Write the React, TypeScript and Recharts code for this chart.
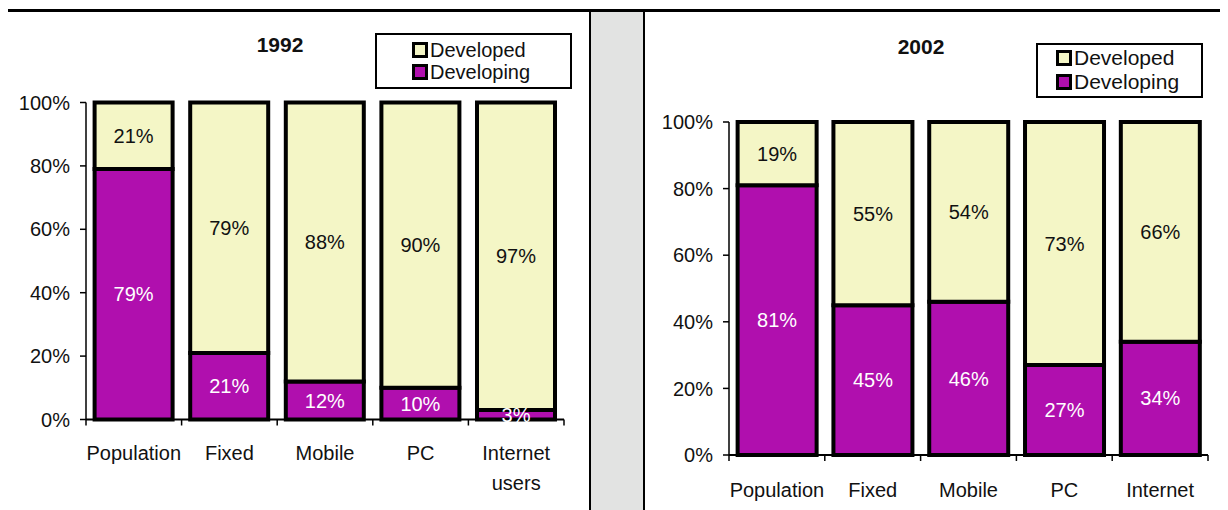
import { BarChart, Bar, XAxis, YAxis, Legend, LabelList } from 'recharts';

const categories1992 = ['Population', 'Fixed', 'Mobile', 'PC', 'Internet users'];
const developing1992 = [79, 21, 12, 10, 3];
const developed1992 = [21, 79, 88, 90, 97];

const categories2002 = ['Population', 'Fixed', 'Mobile', 'PC', 'Internet'];
const developing2002 = [81, 45, 46, 27, 34];
const developed2002 = [19, 55, 54, 73, 66];

const percentTicks = [0, 20, 40, 60, 80, 100];
const legendOrder = ['Developed', 'Developing'];

const FONT = '"Liberation Sans", Arial, sans-serif';
const YELLOW = '#F4F6C6';
const PURPLE = '#B00FAE';
const seriesColors: Record<string, string> = { Developed: YELLOW, Developing: PURPLE };
const TICK_SIZE = 6;

const pct = (v: number) => `${v}%`;

// category label (one word per line) plus the small tick marks that sit
// on the category boundaries, like the old Excel charts
function CategoryTick({ x, y, payload, index, visibleTicksCount, gap }: any) {
  const lines = String(payload.value).split(' ');
  const half = payload.offset || 0;
  const axisY = y - TICK_SIZE - gap;
  const last = index === visibleTicksCount - 1;
  return (
    <g>
      <line x1={x - half} x2={x - half} y1={axisY} y2={axisY + TICK_SIZE} stroke="#000" strokeWidth={1.5} />
      {last && <line x1={x + half} x2={x + half} y1={axisY} y2={axisY + TICK_SIZE} stroke="#000" strokeWidth={1.5} />}
      <text x={x} y={y} textAnchor="middle" fontSize={20} fontFamily={FONT} fill="#111">
        {lines.map((w, i) => (
          <tspan key={i} x={x} dy={i === 0 ? '0.71em' : 30}>{w}</tspan>
        ))}
      </text>
    </g>
  );
}

function BoxLegend({ payload, fontSize, rowHeight, swatch, padLeft, padTop }: any) {
  const items = [...(payload || [])].sort((a: any, b: any) => legendOrder.indexOf(a.value) - legendOrder.indexOf(b.value));
  return (
    <div style={{ boxSizing: 'border-box', width: '100%', height: '100%', border: '2px solid #000', background: '#fff', paddingLeft: padLeft, paddingTop: padTop, fontFamily: FONT, fontSize, color: '#111' }}>
      {items.map((it: any) => (
        <div key={it.value} style={{ display: 'flex', alignItems: 'center', height: rowHeight, lineHeight: `${rowHeight}px` }}>
          <span style={{ boxSizing: 'border-box', width: swatch, height: swatch, border: '3px solid #000', background: seriesColors[it.value], marginRight: 2, display: 'inline-block' }} />
          <span>{it.value}</span>
        </div>
      ))}
    </div>
  );
}

type PanelProps = {
  categories: string[];
  developing: number[];
  developed: number[];
  left: number;
  width: number;
  margin: { top: number; right: number; bottom: number; left: number };
  axisHeight: number;
  labelGap: number;
  legendBox: { left: number; top: number; width: number; height: number };
  legendStyle: { fontSize: number; rowHeight: number; swatch: number; padLeft: number; padTop: number };
};

function SharePanel(p: PanelProps) {
  const data = p.categories.map((name, i) => ({ name, developing: p.developing[i], developed: p.developed[i] }));
  return (
    <div style={{ position: 'absolute', left: p.left, top: 0 }}>
      <BarChart width={p.width} height={510} data={data} margin={p.margin} barCategoryGap="9%">
        <XAxis dataKey="name" height={p.axisHeight} axisLine={{ stroke: '#000', strokeWidth: 2 }} tickLine={false}
          tickSize={TICK_SIZE} tickMargin={p.labelGap} tick={<CategoryTick gap={p.labelGap} />} interval={0} />
        <YAxis width={76} domain={[0, 100]} ticks={percentTicks} tickFormatter={pct}
          axisLine={{ stroke: '#000', strokeWidth: 1.5 }} tickLine={{ stroke: '#000', strokeWidth: 1.5 }}
          tickSize={TICK_SIZE} tickMargin={10} tick={{ fill: '#111', fontSize: 20, fontFamily: FONT }} />
        <Legend layout="horizontal" verticalAlign="middle" align="center"
          wrapperStyle={{ left: p.legendBox.left, top: p.legendBox.top, width: p.legendBox.width, height: p.legendBox.height }}
          content={(props: any) => <BoxLegend payload={props.payload} {...p.legendStyle} />} />
        <Bar dataKey="developing" name="Developing" stackId="s" fill={PURPLE} stroke="#000" strokeWidth={4} isAnimationActive={false}>
          <LabelList dataKey="developing" position="center" formatter={pct as any} fill="#fff" fontSize={20} fontFamily={FONT} />
        </Bar>
        <Bar dataKey="developed" name="Developed" stackId="s" fill={YELLOW} stroke="#000" strokeWidth={4} isAnimationActive={false}>
          <LabelList dataKey="developed" position="center" formatter={pct as any} fill="#111" fontSize={20} fontFamily={FONT} />
        </Bar>
      </BarChart>
    </div>
  );
}

const titleStyle = (cx: number, cy: number): React.CSSProperties => ({
  position: 'absolute', left: cx - 50, top: cy - 12, width: 100, height: 24, lineHeight: '24px',
  textAlign: 'center', fontWeight: 'bold', fontSize: 21, fontFamily: FONT, color: '#111',
});

export default function App() {
  return (
    <div style={{ position: 'relative', width: 1228, height: 510, margin: '-8px 0 0 -8px', background: '#fff', overflow: 'hidden', fontFamily: FONT }}>
      <div style={{ position: 'absolute', left: 591, top: 10, width: 53, height: 500, background: '#E2E3E2' }} />
      <div style={{ position: 'absolute', left: 0, top: 9, width: 1228, height: 3, background: '#000' }} />
      <div style={{ position: 'absolute', left: 5, top: 12, width: 2, height: 498, background: '#000' }} />
      <div style={{ position: 'absolute', left: 589, top: 12, width: 2, height: 498, background: '#000' }} />
      <div style={{ position: 'absolute', left: 643, top: 12, width: 2, height: 498, background: '#000' }} />

      <div style={titleStyle(280, 45)}>1992</div>
      <div style={titleStyle(921, 47)}>2002</div>

      <SharePanel
        categories={categories1992} developing={developing1992} developed={developed1992}
        left={0} width={591}
        margin={{ top: 102.5, right: 27, bottom: 20.5, left: 10 }}
        axisHeight={70} labelGap={20}
        legendBox={{ left: 375, top: 33, width: 197, height: 56 }}
        legendStyle={{ fontSize: 20, rowHeight: 22, swatch: 16, padLeft: 35, padTop: 4 }}
      />
      <SharePanel
        categories={categories2002} developing={developing2002} developed={developed2002}
        left={630} width={598}
        margin={{ top: 122, right: 20, bottom: 15, left: 23 }}
        axisHeight={40} labelGap={22}
        legendBox={{ left: 406, top: 43, width: 167, height: 55 }}
        legendStyle={{ fontSize: 21, rowHeight: 24, swatch: 16, padLeft: 18, padTop: 1 }}
      />
    </div>
  );
}
